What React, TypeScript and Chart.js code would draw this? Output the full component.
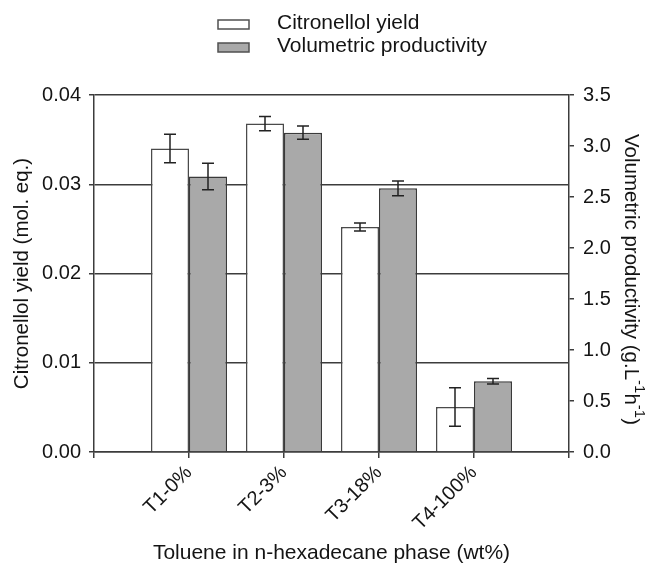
import React, { useEffect, useRef } from 'react';
import { Chart, registerables } from 'chart.js';

Chart.register(...registerables);

const categories = ['', 'T1-0%', 'T2-3%', 'T3-18%', 'T4-100%', ''];
const yieldValues = [null, 0.034, 0.0368, 0.0252, 0.00504, null];
const yieldErrors = [null, 0.0016, 0.0008, 0.00045, 0.00216, null];
const productivityValues = [null, 2.7, 3.13, 2.585, 0.693, null];
const productivityErrors = [null, 0.13, 0.065, 0.072, 0.027, null];

const seriesLabels = ['Citronellol yield', 'Volumetric productivity'];
const leftAxisTitle = 'Citronellol yield (mol. eq.)';
const rightAxisTitleParts = [
  { text: 'Volumetric productivity (g.L', sup: false },
  { text: '-1', sup: true },
  { text: 'h', sup: false },
  { text: '-1', sup: true },
  { text: ')', sup: false },
];
const xAxisTitle = 'Toluene in n-hexadecane phase (wt%)';

const FONT = '"Liberation Sans", Arial, sans-serif';
const FS_TICK = 20;
const FS_TITLE = 21;
const FS_YTITLE = 20.5;
const LINE = '#3c3c3c';
const TEXT = '#141414';
const GRAY = '#a9a9a9';

const errorBarPlugin = {
  id: 'errorBars',
  afterDatasetsDraw(chart: any) {
    const ctx = chart.ctx;
    const errs = [yieldErrors, productivityErrors];
    chart.data.datasets.forEach((ds: any, i: number) => {
      const meta = chart.getDatasetMeta(i);
      const scale = chart.scales[ds.yAxisID];
      meta.data.forEach((el: any, j: number) => {
        const v = ds.data[j];
        const e = errs[i][j];
        if (v == null || e == null) return;
        const x = el.x;
        const yT = scale.getPixelForValue(v + e);
        const yB = scale.getPixelForValue(v - e);
        ctx.save();
        ctx.strokeStyle = '#222';
        ctx.lineWidth = 1.5;
        ctx.beginPath();
        ctx.moveTo(x, yT);
        ctx.lineTo(x, yB);
        ctx.moveTo(x - 6, yT);
        ctx.lineTo(x + 6, yT);
        ctx.moveTo(x - 6, yB);
        ctx.lineTo(x + 6, yB);
        ctx.stroke();
        ctx.restore();
      });
    });
  },
};

const legendPlugin = {
  id: 'customLegend',
  afterDraw(chart: any) {
    const ctx = chart.ctx;
    ctx.save();
    const fills = ['#ffffff', GRAY];
    const rows = [29, 52];
    seriesLabels.forEach((label, i) => {
      const base = rows[i];
      ctx.fillStyle = fills[i];
      ctx.fillRect(218, base - 9, 31, 9);
      ctx.strokeStyle = '#505050';
      ctx.lineWidth = 1.5;
      ctx.strokeRect(218, base - 9, 31, 9);
      ctx.fillStyle = TEXT;
      ctx.font = `${FS_TITLE}px ${FONT}`;
      ctx.textBaseline = 'alphabetic';
      ctx.textAlign = 'left';
      ctx.fillText(label, 277, base);
    });
    ctx.restore();
  },
};

const rightTitlePlugin = {
  id: 'rightTitle',
  afterDraw(chart: any) {
    const ctx = chart.ctx;
    const area = chart.chartArea;
    const cy = (area.top + area.bottom) / 2 + 6;
    ctx.save();
    ctx.translate(631, cy);
    ctx.rotate(Math.PI / 2);
    const normal = `${FS_YTITLE}px ${FONT}`;
    const small = `${Math.round(FS_YTITLE * 0.72)}px ${FONT}`;
    let total = 0;
    rightAxisTitleParts.forEach((p) => {
      ctx.font = p.sup ? small : normal;
      total += ctx.measureText(p.text).width;
    });
    let x = -total / 2;
    ctx.fillStyle = TEXT;
    ctx.textBaseline = 'middle';
    ctx.textAlign = 'left';
    rightAxisTitleParts.forEach((p) => {
      ctx.font = p.sup ? small : normal;
      ctx.fillText(p.text, x, p.sup ? -8 : 0);
      x += ctx.measureText(p.text).width;
    });
    ctx.restore();
  },
};

export default function App() {
  const ref = useRef<HTMLCanvasElement>(null);
  useEffect(() => {
    document.body.style.margin = '0';
    if (!ref.current) return;
    const chart = new Chart(ref.current, {
      type: 'bar',
      data: {
        labels: categories,
        datasets: [
          {
            label: seriesLabels[0],
            data: yieldValues as any,
            yAxisID: 'y',
            backgroundColor: '#ffffff',
            borderColor: '#4a4a4a',
            borderWidth: 1.5,
            categoryPercentage: 0.8,
            barPercentage: 1.0,
          },
          {
            label: seriesLabels[1],
            data: productivityValues as any,
            yAxisID: 'y1',
            backgroundColor: GRAY,
            borderColor: '#3a3a3a',
            borderWidth: 1.5,
            categoryPercentage: 0.8,
            barPercentage: 1.0,
          },
        ],
      },
      options: {
        responsive: false,
        animation: false,
        devicePixelRatio: 1,
        layout: { padding: { top: 95, left: 0, right: 0, bottom: 0 } },
        plugins: {
          legend: { display: false },
          tooltip: { enabled: false },
        },
        scales: {
          x: {
            type: 'category',
            offset: false,
            z: 1,
            grid: {
              display: true,
              offset: false,
              drawOnChartArea: false,
              drawTicks: true,
              tickLength: 6,
              color: LINE,
              lineWidth: 1.5,
            },
            border: { display: true, color: LINE, width: 1.5 },
            ticks: {
              autoSkip: false,
              maxRotation: 45,
              minRotation: 45,
              padding: 3,
              color: TEXT,
              font: { family: FONT, size: FS_TICK },
            },
            title: {
              display: true,
              text: xAxisTitle,
              color: TEXT,
              font: { family: FONT, size: FS_TITLE },
              padding: { top: 0, bottom: 6 },
            },
            afterFit(scale: any) {
              scale.height = 120;
            },
          },
          y: {
            type: 'linear',
            position: 'left',
            min: 0,
            max: 0.04,
            grid: {
              display: true,
              drawOnChartArea: true,
              drawTicks: true,
              tickLength: 5,
              color: LINE,
              lineWidth: 1.5,
            },
            border: { display: true, color: LINE, width: 1.5 },
            ticks: {
              stepSize: 0.01,
              padding: 8,
              color: TEXT,
              font: { family: FONT, size: FS_TICK },
              callback: (v: any) => Number(v).toFixed(2),
            },
            title: {
              display: true,
              text: leftAxisTitle,
              color: TEXT,
              font: { family: FONT, size: FS_YTITLE },
              padding: { top: 10, bottom: 0 },
            },
            afterFit(scale: any) {
              scale.width = 94;
            },
          },
          y1: {
            type: 'linear',
            position: 'right',
            min: 0,
            max: 3.5,
            grid: {
              display: true,
              drawOnChartArea: false,
              drawTicks: true,
              tickLength: 5,
              color: LINE,
              lineWidth: 1.5,
            },
            border: { display: true, color: LINE, width: 1.5 },
            ticks: {
              stepSize: 0.5,
              padding: 9,
              color: TEXT,
              font: { family: FONT, size: FS_TICK },
              callback: (v: any) => Number(v).toFixed(1),
            },
            title: { display: false },
            afterFit(scale: any) {
              scale.width = 84;
            },
          },
        },
      } as any,
      plugins: [errorBarPlugin, legendPlugin, rightTitlePlugin],
    });
    return () => chart.destroy();
  }, []);
  return <canvas ref={ref} width={653} height={572} style={{ display: 'block' }} />;
}
